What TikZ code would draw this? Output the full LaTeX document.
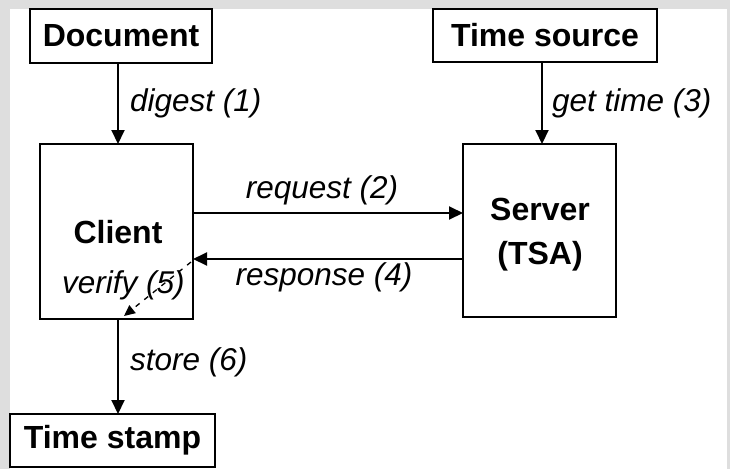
\documentclass[tikz,border=0pt]{standalone}
\usepackage{fontspec}
\setmainfont{Liberation Sans}
\usetikzlibrary{arrows.meta}
\definecolor{framegray}{RGB}{222,222,222}
\tikzset{
  box/.style={draw=black, line width=2pt, fill=white, inner sep=0pt, font=\fontsize{32}{36}\selectfont\bfseries, align=center},
  lbl/.style={font=\fontsize{31.5}{36}\selectfont\itshape, inner sep=0pt},
  conn/.style={line width=2pt, -{Triangle[length=14pt,width=13pt]}},
  dconn/.style={line width=1.3pt, dash pattern=on 5pt off 6pt, -{Triangle[length=11pt,width=10pt]}}
}
\begin{document}
\begin{tikzpicture}[x=1pt,y=-1pt]
\fill[framegray] (0,0) rectangle (730,469);
\fill[white] (10,9) rectangle (727,469);
\useasboundingbox (0,0) rectangle (730,469);
\node[box, minimum width=182pt, minimum height=54pt] (doc) at (121,36) {Document};
\node[box, minimum width=224pt, minimum height=53pt] (ts) at (545,35.5) {Time source};
\node[box, minimum width=153pt, minimum height=175pt] (cl) at (116.5,231.5) {};
\node[box, minimum width=153pt, minimum height=173pt] (srv) at (539.5,230.5) {};
\node[box, minimum width=205pt, minimum height=53pt] (tst) at (112.5,440.5) {Time stamp};
\node[box, draw=none, fill=none] (cltxt) at (118,232) {Client};
\node[box, draw=none, fill=none, align=center] (srvtxt) at (540,235) {Server\\[8pt](TSA)};
\coordinate (docb) at (118,63);
\coordinate (clt) at (118,144);
\coordinate (tsb) at (542,62);
\coordinate (srvt) at (542,144);
\coordinate (clr1) at (193,213);
\coordinate (srvl1) at (463,213);
\coordinate (srvl2) at (463,259);
\coordinate (clr2) at (193,259);
\coordinate (clb) at (118,319);
\coordinate (tstt) at (118,414);
\coordinate (vs) at (191,262);
\coordinate (ve) at (124,316);
\draw[conn] (docb) -- (clt);
\draw[conn] (tsb) -- (srvt);
\draw[conn] (clr1) -- (srvl1);
\draw[conn] (srvl2) -- (clr2);
\draw[conn] (clb) -- (tstt);
\draw[dconn] (vs) -- (ve);
\node[lbl, anchor=west] (l1) at (130,103) {digest (1)};
\node[lbl, anchor=west] (l3) at (552,103) {get time (3)};
\node[lbl] (l2) at (322,190) {request (2)};
\node[lbl] (l4) at (324,277) {response (4)};
\node[lbl, anchor=west] (l5) at (62,285) {verify (5)};
\node[lbl, anchor=west] (l6) at (130,362) {store (6)};
\end{tikzpicture}
\end{document}
